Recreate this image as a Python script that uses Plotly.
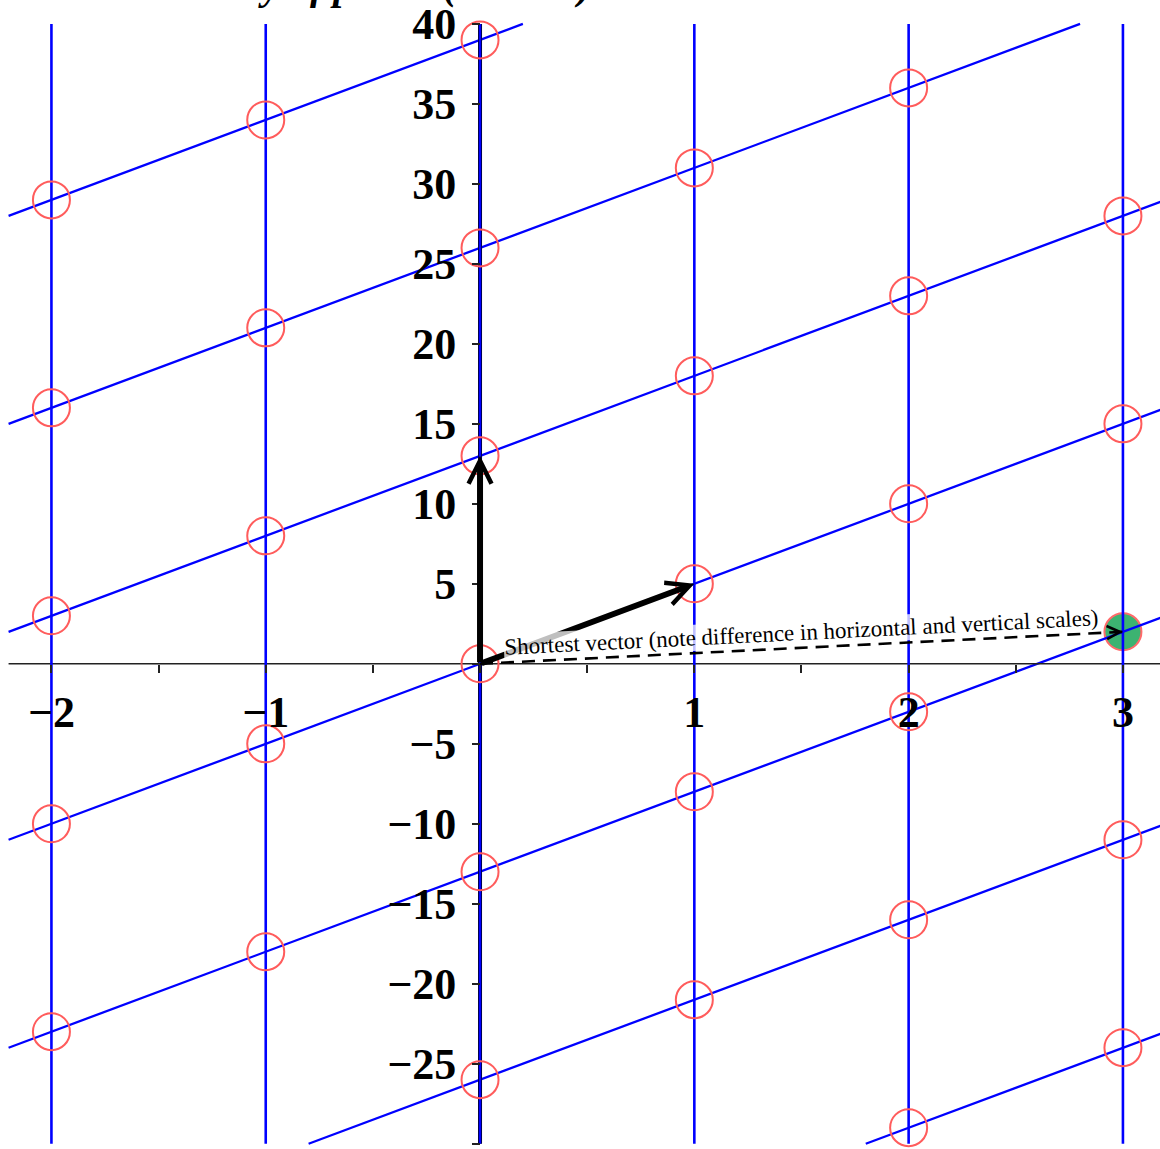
import plotly.graph_objects as go

# ---- data ----
X_MIN, X_MAX = -2.2, 3.2
Y_MIN, Y_MAX = -30, 40

vertical_x = [-2, -1, 0, 1, 2, 3]
slope = 5
intercepts = [-39, -26, -13, 0, 13, 26, 39]

point_x = [-2, -2, -2, -2, -2,
           -1, -1, -1, -1, -1,
           0, 0, 0, 0, 0, 0,
           1, 1, 1, 1, 1,
           2, 2, 2, 2, 2, 2,
           3, 3, 3, 3]
point_y = [29, 16, 3, -10, -23,
           34, 21, 8, -5, -18,
           39, 26, 13, 0, -13, -26,
           31, 18, 5, -8, -21,
           36, 23, 10, -3, -16, -29,
           28, 15, -11, -24]

basis_a = (0, 13)
basis_b = (1, 5)
shortest = (3, 2)
shortest_label = "Shortest vector (note difference in horizontal and vertical scales)"
title_text = "Geometry of points (mod 13)"

x_tickvals = [-2, -1.5, -1, -0.5, 0, 0.5, 1, 1.5, 2, 2.5, 3]
x_ticktext = ["\u22122", "", "\u22121", "", "", "", "1", "", "2", "", "3"]
y_tickvals = [40, 35, 30, 25, 20, 15, 10, 5, 0, -5, -10, -15, -20, -25, -30]
y_ticktext = ["40", "35", "30", "25", "20", "15", "10", "5", "",
              "\u22125", "\u221210", "\u221215", "\u221220", "\u221225", ""]

# ---- figure ----
W, H = 1160, 1149
XR = [-2.240, 3.173]
YR = [-30.33, 41.37]

fig = go.Figure()

# green highlighted point
fig.add_trace(go.Scatter(
    x=[shortest[0]], y=[shortest[1]], mode="markers",
    marker=dict(size=37, color="#3cb371", line=dict(color="#ff6a6a", width=2)),
    hoverinfo="skip", showlegend=False))

# slanted lattice lines
sx, sy = [], []
for c in intercepts:
    xa = max(X_MIN, (Y_MIN - c) / slope)
    xb = min(X_MAX, (Y_MAX - c) / slope)
    sx += [xa, xb, None]
    sy += [slope * xa + c, slope * xb + c, None]
fig.add_trace(go.Scatter(x=sx, y=sy, mode="lines",
                         line=dict(color="#0000ff", width=2.3),
                         hoverinfo="skip", showlegend=False))

# axes lines
fig.add_trace(go.Scatter(x=[X_MIN, X_MAX], y=[0, 0], mode="lines",
                         line=dict(color="#222222", width=1.6),
                         hoverinfo="skip", showlegend=False))
fig.add_trace(go.Scatter(x=[0, 0], y=[Y_MIN, Y_MAX], mode="lines",
                         line=dict(color="black", width=4),
                         hoverinfo="skip", showlegend=False))

# vertical lattice lines
vx, vy = [], []
for v in vertical_x:
    vx += [v, v, None]
    vy += [Y_MIN, Y_MAX, None]
fig.add_trace(go.Scatter(x=vx, y=vy, mode="lines",
                         line=dict(color="#0000ff", width=2.6),
                         hoverinfo="skip", showlegend=False))

# lattice points
fig.add_trace(go.Scatter(
    x=point_x, y=point_y, mode="markers",
    marker=dict(size=37, color="rgba(0,0,0,0)", line=dict(color="#ff5c5c", width=2)),
    hoverinfo="skip", showlegend=False))

# dashed shortest vector
fig.add_trace(go.Scatter(x=[0, shortest[0]], y=[0, shortest[1]], mode="lines",
                         line=dict(color="black", width=2.6, dash="13px,8px"),
                         hoverinfo="skip", showlegend=False))

annotations = []
for (bx, by) in [basis_a, basis_b]:
    annotations.append(dict(
        x=bx, y=by, ax=0, ay=0, xref="x", yref="y", axref="x", ayref="y",
        text="", showarrow=True, arrowhead=5, arrowsize=0.75, arrowwidth=6,
        arrowcolor="black", standoff=0, startstandoff=0))

# arrow head of dashed vector
annotations.append(dict(
    x=shortest[0], y=shortest[1], ax=shortest[0] * 0.985, ay=shortest[1] * 0.985,
    xref="x", yref="y", axref="x", ayref="y",
    text="", showarrow=True, arrowhead=5, arrowsize=1, arrowwidth=2.6,
    arrowcolor="black", standoff=0))

# label of shortest vector
annotations.append(dict(
    x=shortest[0] / 2, y=shortest[1] / 2, xref="x", yref="y",
    text=shortest_label, showarrow=False, textangle=-2.85,
    yshift=15, xshift=0,
    font=dict(family="Liberation Serif", size=23, color="black"),
    bgcolor="rgba(255,255,255,0.75)", borderpad=0))

# title (cut off at the top of the picture)
annotations.append(dict(
    x=593 / W, y=1 - 8 / H, xref="paper", yref="paper",
    xanchor="right", yanchor="bottom", showarrow=False,
    text="<b><i>" + title_text + "</i></b>",
    font=dict(family="Liberation Serif", size=40, color="black")))

tickfont = dict(family="Liberation Serif", size=44, color="black", weight="bold")

fig.update_layout(
    width=W, height=H,
    margin=dict(l=0, r=0, t=0, b=0),
    paper_bgcolor="white", plot_bgcolor="white",
    showlegend=False,
    annotations=annotations,
    xaxis=dict(range=XR, anchor="free",
               position=(0 - YR[0]) / (YR[1] - YR[0]),
               showgrid=False, zeroline=False, showline=False,
               tickmode="array", tickvals=x_tickvals, ticktext=x_ticktext,
               ticks="outside", ticklen=8, tickwidth=1.5, tickcolor="#222222",
               tickfont=tickfont, ticklabelstandoff=1, ticklabeloverflow="allow"),
    yaxis=dict(range=YR, anchor="free",
               position=(0 - XR[0]) / (XR[1] - XR[0]),
               showgrid=False, zeroline=False, showline=False,
               tickmode="array", tickvals=y_tickvals, ticktext=y_ticktext,
               ticks="outside", ticklen=8, tickwidth=1.5, tickcolor="#222222",
               tickfont=tickfont, ticklabelstandoff=7, ticklabeloverflow="allow"),
)

fig.write_html("out.html", config={"displayModeBar": False},
               post_script="document.body.style.margin='0';")
